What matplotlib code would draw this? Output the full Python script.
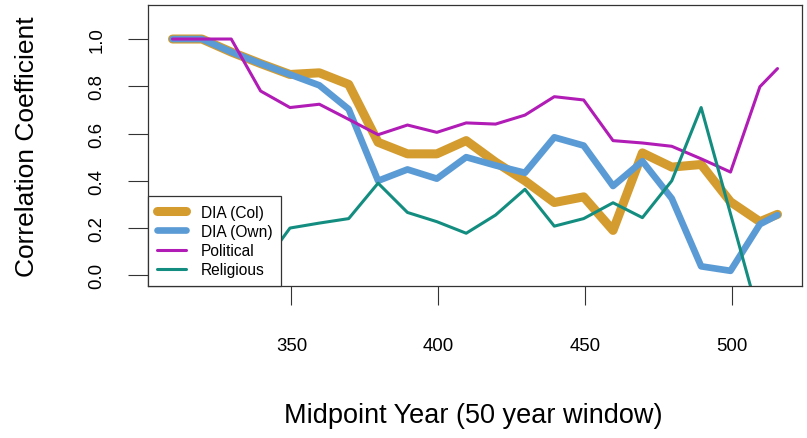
import matplotlib
matplotlib.use("Agg")
import matplotlib.pyplot as plt

plt.rcParams['font.family'] = ['Liberation Sans', 'DejaVu Sans']

# window midpoints (50 year windows)
years = [309.5, 319.5, 329.5, 339.5, 349.5, 359.5, 369.5, 379.5, 389.5, 399.5, 409.5,
         419.5, 429.5, 439.5, 449.5, 459.5, 469.5, 479.5, 489.5, 499.5, 509.5, 515.5]

dia_col = [1.0, 1.0, 0.945, 0.896, 0.85, 0.857, 0.808, 0.563, 0.514, 0.514, 0.57,
           0.479, 0.40, 0.308, 0.332, 0.19, 0.518, 0.458, 0.469, 0.311, 0.227, 0.258]
dia_own = [1.0, 1.0, 0.945, 0.896, 0.85, 0.804, 0.703, 0.40, 0.448, 0.409, 0.50,
           0.465, 0.434, 0.584, 0.549, 0.378, 0.483, 0.325, 0.038, 0.019, 0.216, 0.255]
political = [1.0, 1.0, 1.0, 0.78, 0.71, 0.724, 0.66, 0.595, 0.636, 0.605, 0.645,
             0.64, 0.678, 0.756, 0.742, 0.57, 0.56, 0.546, 0.493, 0.437, 0.798, 0.875]
religious = [0.12, 0.08, 0.05, 0.03, 0.2, 0.221, 0.24, 0.39, 0.266, 0.227, 0.178,
             0.255, 0.364, 0.208, 0.24, 0.307, 0.244, 0.40, 0.71, 0.26, -0.19, -0.3]

W, H = 807, 439
fig = plt.figure(figsize=(W / 100, H / 100), dpi=100)
ax = fig.add_axes([148.3 / W, 1 - 286.7 / H, (801.7 - 148.3) / W, (286.7 - 6) / H])

line_kw = dict(solid_capstyle='round', solid_joinstyle='round')
ax.plot(years, dia_col, color='#D49C2E', lw=6.5, label='DIA (Col)', **line_kw)
ax.plot(years, dia_own, color='#5B9BD5', lw=4.8, label='DIA (Own)', **line_kw)
ax.plot(years, political, color='#B01CB5', lw=2.2, label='Political', **line_kw)
ax.plot(years, religious, color='#138D80', lw=2.2, label='Religious', **line_kw)

ax.set_xlim(301.26, 523.74)
ax.set_ylim(-0.044, 1.144)
ax.set_xticks([350, 400, 450, 500])
ax.set_yticks([0.0, 0.2, 0.4, 0.6, 0.8, 1.0])
ax.set_yticklabels(['0.0', '0.2', '0.4', '0.6', '0.8', '1.0'])
ax.tick_params(axis='x', length=13.5, width=0.8, pad=23.5, labelsize=13.4, color='#333333')
ax.tick_params(axis='y', length=14.4, width=0.8, pad=16.5, labelsize=13.4, color='#333333')
for lab in ax.get_yticklabels():
    lab.set_rotation(90)
    lab.set_va('center')
for sp in ax.spines.values():
    sp.set_linewidth(0.9)
    sp.set_color('#333333')

fig.text(473 / W, 1 - 416 / H, 'Midpoint Year (50 year window)', ha='center', va='center', fontsize=19.5)
fig.text(27 / W, 1 - 147 / H, 'Correlation Coefficient', ha='center', va='center',
         rotation=90, fontsize=19)

leg = ax.legend(loc='lower left', borderaxespad=0, fancybox=False, framealpha=1,
                edgecolor='#333333', fontsize=11.2, handlelength=1.85, handletextpad=1.0,
                borderpad=0.55, labelspacing=0.27)
leg.get_frame().set_linewidth(0.9)
leg.set_zorder(5)

fig.savefig('out.png', dpi=100)
